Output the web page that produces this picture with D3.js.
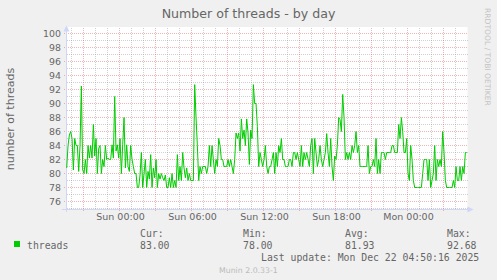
<!DOCTYPE html>
<html><head><meta charset="utf-8">
<script src="https://cdn.jsdelivr.net/npm/d3@7"></script>
<style>
html,body{margin:0;padding:0;background:#F0F0F0;}
svg{display:block;}
text{font-family:"DejaVu Sans",sans-serif;fill:#666666;}
.mono{font-family:"DejaVu Sans Mono",monospace;}
</style></head><body>
<svg id="chart" width="497" height="280"></svg>
<script>
// ---------- data ----------
const title = "Number of threads - by day";
const yAxisLabel = "number of threads";
const seriesName = "threads";
const seriesColor = "#00CC00";
const watermark = "RRDTOOL / TOBI OETIKER";
const footer = "Munin 2.0.33-1";
const lastUpdate = "Last update: Mon Dec 22 04:50:16 2025";
const statLabels = ["Cur:", "Min:", "Avg:", "Max:"];
const statValues = ["83.00", "78.00", "81.93", "92.68"];
const yTicks = [76, 78, 80, 82, 84, 86, 88, 90, 92, 94, 96, 98, 100];
const firstSample = Date.UTC(2025, 11, 20, 19, 35, 0);
const sampleStepSeconds = 400;
const threads = [
80.8,84,85.5,86,85,80.5,85,84,84,80.3,84,92.5,80.5,80,82,80,84,82.2,84,82.2,87,82.5,85,80,83.6,84,80,82,81,84,82,82.2,82,82,84.1,82.2,91,83.2,84.1,82.2,85,80,84.1,88,80.8,84.1,81,80.3,84,82,81,80,80,78,78,79.8,83,78,80,82,78,80.3,79.2,82.7,78,80.8,79.4,82,78,80,79.2,80,79.4,
79,79.8,78,78,79.4,78,80,78,79,78,82.7,79,81,79,83,80.8,79.4,80.8,79,80,79,79,79,92.7,88,84,79,81,80,81,81,81,80,81,84,81,84,82,80,82,81,85,84,82,82,81,81,81,82,81,82,81,80,82,85.8,85,85.8,83.2,87.8,85,86.2,84,87.8,85.8,81.3,86.2,85,92.7,90,90,86.7,81,83,82,81,
82,84,81,80,81,81,82,83,80,83,81,84,83,85,82,82,81,81,81,82,82,81,83,83,82,83,82,81,84,81,83,82,83,82,81,84,85,80,85,83,81,82,84,82,81,82,83,85.7,83,81,85,81,79,82.5,82,84,88,87.7,86,91.3,88,82,83,82,83,82,84,83,84,86,83,84,81,81,81,
81,81,81,84,80,81,81,82,81,85,80,82,80,83,83,83,82,83,83,83,83,84,84,83,83,83,87,85,88,86,83,83,85,80,79,84,82,79,78,78,78,78,78,78,80,82,82,82,79,82,78,79,80,84,79,82,81,82,81,86,83,79,78,78,78,78,78,79,78,81,79,79,81,79,81,80,83,83
];

// ---------- layout ----------
const svg = d3.select("#chart");
const W = 497, H = 280;
const plot = {left: 66, right: 467.5, top: 27, bottom: 210};
const sun0 = Date.UTC(2025, 11, 21, 0, 0, 0);
const x = d3.scaleUtc()
  .domain([new Date(sun0 - 268.5 * 60000), new Date(sun0 + 1739 * 60000)])
  .range([plot.left, plot.right]);
const y = d3.scaleLinear().domain([74.79, 100.93]).range([plot.bottom, plot.top]);

const data = threads.map((v, i) => ({t: new Date(firstSample + i * sampleStepSeconds * 1000), v}));

svg.append("rect").attr("width", W).attr("height", H).attr("fill", "#F0F0F0");
svg.append("rect").attr("x", plot.left).attr("y", plot.top)
  .attr("width", plot.right - plot.left).attr("height", plot.bottom - plot.top)
  .attr("fill", "#FFFFFF");

const gridG = svg.append("g").attr("shape-rendering", "crispEdges");
const minorCol = "rgba(143,143,143,0.42)";
const majorCol = "rgba(222,79,79,0.42)";
const px = v => Math.floor(v) + 0.5;

// horizontal grid
const yMinor = d3.range(75, 101);
yMinor.forEach(v => {
  const major = yTicks.includes(v);
  gridG.append("line")
    .attr("x1", major ? plot.left - 2 : plot.left + 1).attr("x2", plot.right)
    .attr("y1", px(y(v))).attr("y2", px(y(v)))
    .attr("stroke", major ? majorCol : minorCol)
    .attr("stroke-width", 1).attr("stroke-dasharray", "1,1");
});
// vertical grid
const hours = d3.utcHour.range(x.domain()[0], x.domain()[1]);
hours.forEach(h => {
  const major = h.getUTCHours() % 3 === 0;
  const xx = px(x(h));
  if (xx <= plot.left + 1) return;
  gridG.append("line")
    .attr("x1", xx).attr("x2", xx)
    .attr("y1", plot.top + 1).attr("y2", major ? plot.bottom + 2 : plot.bottom)
    .attr("stroke", major ? majorCol : minorCol)
    .attr("stroke-width", 1).attr("stroke-dasharray", "1,1");
});

// axes
const axisCol = "#CFD6F8";
const axG = svg.append("g").attr("shape-rendering", "crispEdges");
axG.append("line").attr("x1", 66.5).attr("x2", 66.5).attr("y1", plot.bottom + 2).attr("y2", 30)
  .attr("stroke", axisCol);
axG.append("line").attr("x1", 62).attr("x2", 468).attr("y1", 209.5).attr("y2", 209.5)
  .attr("stroke", axisCol);
svg.append("path").attr("d", "M63.5,31.5L69.5,31.5L66.5,25.5Z").attr("fill", axisCol);
svg.append("path").attr("d", "M467.5,206.5L467.5,212.5L473.5,209.5Z").attr("fill", axisCol);

// y tick labels
svg.append("g").selectAll("text").data(yTicks).join("text")
  .attr("x", 61).attr("y", d => y(d)).attr("dy", "0.36em")
  .attr("text-anchor", "end").attr("font-size", "9.4px")
  .text(d => d);

// x tick labels
const fmt = d3.utcFormat("%a %H:%M");
const labelHours = d3.utcHour.every(6).range(x.domain()[0], x.domain()[1])
  .filter(d => x(d) > plot.left + 20 && x(d) < plot.right - 20);
svg.append("g").selectAll("text").data(labelHours).join("text")
  .attr("x", d => x(d) + 0.8).attr("y", 220)
  .attr("text-anchor", "middle").attr("font-size", "9.5px")
  .text(d => fmt(d));

// data line
svg.append("path").datum(data)
  .attr("fill", "none").attr("stroke", seriesColor).attr("stroke-width", 1)
  .attr("stroke-linejoin", "miter")
  .attr("d", d3.line().x(d => x(d.t)).y(d => y(d.v)));

// title
svg.append("text").attr("x", 248.5).attr("y", 18).attr("text-anchor", "middle")
  .attr("font-size", "12.6px").text(title);

// y axis label
svg.append("text").attr("transform", "translate(14,119) rotate(-90)")
  .attr("text-anchor", "middle").attr("font-size", "11px").text(yAxisLabel);

// watermark
svg.append("text").attr("transform", "translate(485,8) rotate(90)")
  .attr("text-anchor", "start").attr("font-size", "7.6px")
  .style("fill", "#C4C4C4").text(watermark);

// legend
svg.append("rect").attr("x", 14).attr("y", 241).attr("width", 6).attr("height", 6)
  .attr("fill", seriesColor);
svg.append("text").attr("class", "mono").attr("x", 27).attr("y", 249)
  .attr("font-size", "9.8px").text(seriesName);
const statX = [140, 243, 345, 447];
statLabels.forEach((l, i) => {
  svg.append("text").attr("class", "mono").attr("x", statX[i]).attr("y", 237)
    .attr("font-size", "9.8px").text(l);
  svg.append("text").attr("class", "mono").attr("x", statX[i]).attr("y", 249)
    .attr("font-size", "9.8px").text(statValues[i]);
});
svg.append("text").attr("class", "mono").attr("x", 261).attr("y", 261)
  .attr("font-size", "9.8px").style("white-space", "pre").text(lastUpdate);

svg.append("text").attr("x", 219).attr("y", 273)
  .attr("font-size", "7.8px").style("fill", "#BBBBBB").text(footer);
</script>
</body></html>
